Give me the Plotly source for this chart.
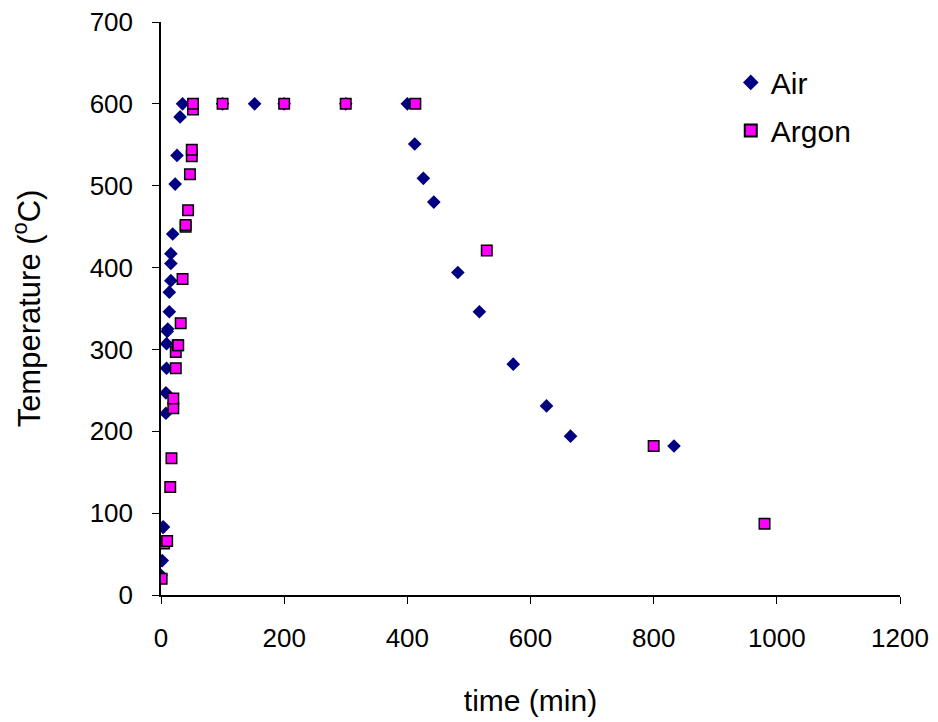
import plotly.graph_objects as go

# Heating/cooling profile under air
air_time = [0, 2, 3, 4, 8, 8, 9, 9, 10, 11, 13.5, 13.5, 16, 16, 16, 19, 23, 26, 31, 35,
            100, 152, 200, 300, 400, 412, 426, 443, 482, 517, 572, 626, 665, 833]
air_temp = [24, 42, 83, 83, 247, 222, 277, 307, 322, 325, 346, 370, 384, 405, 417, 441, 502, 537, 584, 600,
            600, 600, 600, 600, 600, 551, 509, 480, 394, 346, 282, 231, 194, 182]

# Heating/cooling profile under argon
argon_time = [1, 5, 10, 15, 17, 20, 20, 24, 24, 27, 28, 32, 35, 40, 40, 44, 47, 50, 50, 52, 52,
              100, 200, 300, 413, 529, 800, 980]
argon_temp = [20, 63, 66, 132, 167, 228, 240, 277, 297, 305, 305, 332, 386, 450, 452, 470, 514, 536, 544, 593, 600,
              600, 600, 600, 600, 421, 182, 87]

x_ticks = [0, 200, 400, 600, 800, 1000, 1200]
y_ticks = [0, 100, 200, 300, 400, 500, 600, 700]

fig = go.Figure()
fig.add_trace(go.Scatter(
    x=air_time, y=air_temp, mode="markers", name="Air", legendgroup="air",
    marker=dict(symbol="diamond", size=10.5, color="#000080", line=dict(width=0)),
))
fig.add_trace(go.Scatter(
    x=argon_time, y=argon_temp, mode="markers", name="Argon", legendgroup="argon",
    marker=dict(symbol="square", size=10.5, color="#FF00FF", line=dict(width=1.5, color="#000000")),
))

font = "Liberation Sans, Arial, sans-serif"
fig.update_layout(
    width=938, height=722,
    margin=dict(l=161, r=38, t=22, b=127),
    paper_bgcolor="white", plot_bgcolor="white",
    font=dict(family=font, size=26, color="black"),
    showlegend=True,
    legend=dict(x=0.771, y=0.94, xanchor="left", yanchor="top",
                font=dict(size=30), bgcolor="rgba(0,0,0,0)", itemsizing="constant",
                traceorder="grouped", tracegroupgap=6),
    xaxis=dict(
        range=[0, 1200], tickvals=x_ticks, ticks="outside", ticklen=7, tickcolor="black",
        showline=True, linecolor="black", linewidth=1.5, showgrid=False, zeroline=False,
        tickfont=dict(size=26), ticklabelstandoff=12, automargin=False,
        title=dict(text="time (min)", font=dict(size=30), standoff=38),
    ),
    yaxis=dict(
        range=[0, 700], tickvals=y_ticks, ticks="outside", ticklen=7, tickcolor="black",
        showline=True, linecolor="black", linewidth=1.5, showgrid=False, zeroline=False,
        tickfont=dict(size=26), ticklabelstandoff=14, automargin=False,
        title=dict(text="Temperature (<sup>o</sup>C)", font=dict(size=31), standoff=40),
    ),
)

fig.write_html("out.html")
